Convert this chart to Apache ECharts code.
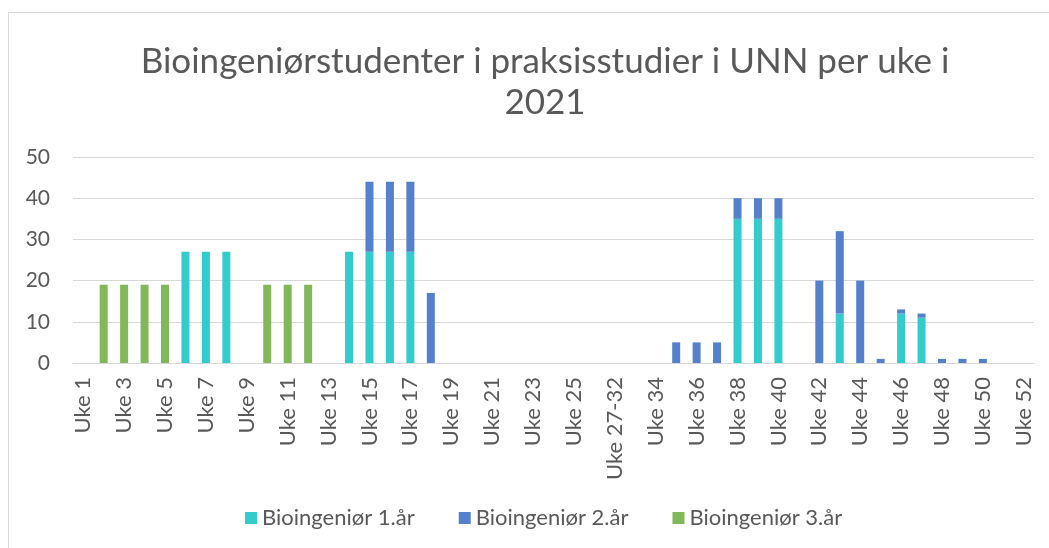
<!DOCTYPE html>
<html>
<head>
<meta charset="utf-8">
<script src="https://cdn.jsdelivr.net/npm/echarts@6/dist/echarts.min.js"></script>
<style>
  html, body { margin: 0; padding: 0; background: #fff; }
  #chart { width: 1049px; height: 548px; }
</style>
</head>
<body>
<div id="chart"></div>
<script>
// kategorier (uker)
var uker = ['Uke 1', 'Uke 2', 'Uke 3', 'Uke 4', 'Uke 5', 'Uke 6', 'Uke 7', 'Uke 8', 'Uke 9', 'Uke 10',
  'Uke 11', 'Uke 12', 'Uke 13', 'Uke 14', 'Uke 15', 'Uke 16', 'Uke 17', 'Uke 18', 'Uke 19', 'Uke 20',
  'Uke 21', 'Uke 22', 'Uke 23', 'Uke 24', 'Uke 25', 'Uke 26', 'Uke 27-32', 'Uke 33', 'Uke 34', 'Uke 35',
  'Uke 36', 'Uke 37', 'Uke 38', 'Uke 39', 'Uke 40', 'Uke 41', 'Uke 42', 'Uke 43', 'Uke 44', 'Uke 45',
  'Uke 46', 'Uke 47', 'Uke 48', 'Uke 49', 'Uke 50', 'Uke 51', 'Uke 52'];

// antall studenter per uke
var aar1 = [0, 0, 0, 0, 0, 27, 27, 27, 0, 0,
  0, 0, 0, 27, 27, 27, 27, 0, 0, 0,
  0, 0, 0, 0, 0, 0, 0, 0, 0, 0,
  0, 0, 35, 35, 35, 0, 0, 12, 0, 0,
  12, 11, 0, 0, 0, 0, 0];
var aar2 = [0, 0, 0, 0, 0, 0, 0, 0, 0, 0,
  0, 0, 0, 0, 17, 17, 17, 17, 0, 0,
  0, 0, 0, 0, 0, 0, 0, 0, 0, 5,
  5, 5, 5, 5, 5, 0, 20, 20, 20, 1,
  1, 1, 1, 1, 1, 0, 0];
var aar3 = [0, 19, 19, 19, 19, 0, 0, 0, 0, 19,
  19, 19, 0, 0, 0, 0, 0, 0, 0, 0,
  0, 0, 0, 0, 0, 0, 0, 0, 0, 0,
  0, 0, 0, 0, 0, 0, 0, 0, 0, 0,
  0, 0, 0, 0, 0, 0, 0];

var serieNavn = ['Bioingeniør 1.år', 'Bioingeniør 2.år', 'Bioingeniør 3.år'];
var farger = ['#33CCCC', '#5580CC', '#80B85A'];

var font = 'Lato, "Open Sans", sans-serif';
var chart = echarts.init(document.getElementById('chart'));

var option = {
  animation: false,
  color: farger,
  textStyle: { fontFamily: font },
  graphic: [{ // ramme rundt diagrammet
    type: 'rect',
    shape: { x: 8.5, y: 12.5, width: 1100, height: 600 },
    style: { fill: 'none', stroke: '#d9d9d9', lineWidth: 1 },
    silent: true
  }],
  title: {
    text: 'Bioingeniørstudenter i praksisstudier i UNN per uke i\n2021',
    left: 540,
    textAlign: 'center',
    top: 36,
    textStyle: { fontFamily: font, fontSize: 35, fontWeight: 'normal', color: '#595959', lineHeight: 41 }
  },
  legend: {
    data: serieNavn,
    bottom: 14,
    left: 240,
    itemWidth: 12,
    itemHeight: 12,
    itemGap: 44,
    icon: 'rect',
    textStyle: { fontSize: 22, color: '#595959', fontFamily: font }
  },
  grid: { left: 73, right: 15, top: 157, bottom: 185, containLabel: false },
  xAxis: {
    type: 'category',
    data: uker,
    axisLine: { lineStyle: { color: '#d9d9d9', width: 1 } },
    axisTick: { show: false },
    axisLabel: { interval: 1, rotate: 90, fontSize: 22, color: '#595959', margin: 14 }
  },
  yAxis: {
    type: 'value',
    min: 0,
    max: 50,
    interval: 10,
    axisLine: { show: false },
    axisTick: { show: false },
    axisLabel: { fontSize: 21, color: '#595959', margin: 23 },
    splitLine: { lineStyle: { color: '#d9d9d9', width: 1 } }
  },
  series: [
    { name: serieNavn[0], type: 'bar', stack: 'a', barWidth: 8, data: aar1 },
    { name: serieNavn[1], type: 'bar', stack: 'a', barWidth: 8, data: aar2 },
    { name: serieNavn[2], type: 'bar', stack: 'a', barWidth: 8, data: aar3 }
  ]
};

chart.setOption(option);
</script>
</body>
</html>
